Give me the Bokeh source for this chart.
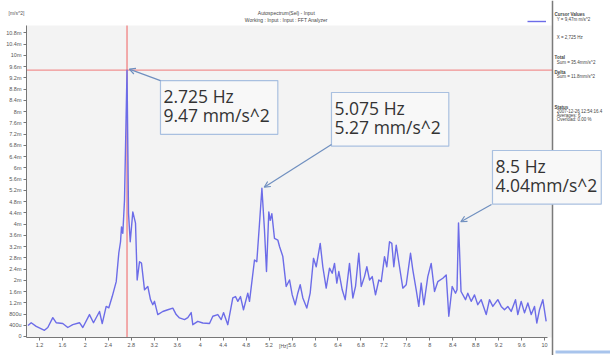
from bokeh.plotting import figure
from bokeh.models import (Range1d, FixedTicker, Span, Label, Arrow, OpenHead, BoxAnnotation,
                          Legend, LegendItem)
from bokeh.embed import file_html
from bokeh.resources import INLINE

# ---- data (frequency in Hz, amplitude in mm/s^2) ----
freq_hz = [1.000, 1.056, 1.143, 1.287, 1.345, 1.432, 1.491, 1.606, 1.693, 1.780, 1.897, 1.955,
           2.071, 2.141, 2.246, 2.293, 2.362, 2.408, 2.467, 2.537, 2.582, 2.612, 2.629, 2.652,
           2.681, 2.725, 2.751, 2.781, 2.826, 2.873, 2.902, 2.943, 2.977, 3.030, 3.087, 3.134,
           3.174, 3.204, 3.261, 3.348, 3.436, 3.523, 3.582, 3.639, 3.727, 3.784, 3.843, 3.871,
           3.958, 4.045, 4.162, 4.220, 4.307, 4.366, 4.406, 4.481, 4.568, 4.615, 4.655, 4.702,
           4.754, 4.829, 4.859, 4.946, 4.986, 5.033, 5.075, 5.120, 5.155, 5.195, 5.220, 5.248,
           5.294, 5.352, 5.382, 5.439, 5.498, 5.556, 5.603, 5.655, 5.700, 5.742, 5.788, 5.857,
           5.916, 5.974, 6.021, 6.091, 6.136, 6.195, 6.253, 6.300, 6.340, 6.380, 6.415, 6.474,
           6.526, 6.601, 6.659, 6.706, 6.763, 6.805, 6.862, 6.903, 6.950, 6.997, 7.054, 7.112,
           7.154, 7.211, 7.251, 7.298, 7.338, 7.373, 7.415, 7.472, 7.530, 7.589, 7.664, 7.704,
           7.763, 7.808, 7.850, 7.896, 7.965, 8.024, 8.082, 8.139, 8.227, 8.286, 8.331, 8.390,
           8.448, 8.474, 8.500, 8.544, 8.622, 8.662, 8.721, 8.779, 8.836, 8.895, 8.983, 9.040,
           9.098, 9.185, 9.244, 9.301, 9.359, 9.418, 9.493, 9.533, 9.592, 9.650, 9.708, 9.767,
           9.824, 9.864, 9.911, 9.969, 10.027]
amp_mm = [0.39, 0.49, 0.36, 0.22, 0.32, 0.67, 0.49, 0.46, 0.32, 0.42, 0.49, 0.32,
          0.78, 0.49, 0.89, 0.46, 1.07, 1.02, 1.42, 1.95, 2.97, 3.37, 3.90, 3.67,
          4.84, 9.47, 4.38, 3.37, 4.43, 4.03, 2.01, 2.66, 2.61, 1.66, 1.78, 1.31,
          1.13, 1.25, 0.78, 0.89, 0.95, 1.01, 0.78, 0.66, 0.60, 0.67, 0.85, 0.42,
          0.54, 0.48, 0.46, 0.72, 0.78, 0.60, 0.85, 0.42, 1.37, 1.42, 1.25, 1.42,
          0.95, 1.54, 1.25, 2.72, 2.66, 4.02, 5.27, 3.78, 2.31, 4.43, 4.13, 4.37,
          3.49, 3.43, 3.20, 2.85, 1.78, 2.01, 1.48, 1.13, 1.54, 1.84, 1.37, 1.01,
          1.54, 2.78, 2.48, 3.31, 2.48, 1.72, 2.43, 2.25, 2.60, 1.90, 2.31, 1.66,
          1.31, 2.60, 1.37, 1.78, 2.96, 1.78, 2.13, 2.48, 2.01, 2.13, 1.48, 2.01,
          1.95, 2.84, 2.48, 3.37, 3.31, 2.48, 3.25, 2.48, 1.72, 1.84, 2.96, 2.37,
          1.66, 1.07, 1.90, 1.13, 2.13, 2.60, 1.60, 1.95, 2.07, 2.19, 0.72, 1.78,
          1.54, 1.66, 4.04, 1.60, 1.31, 1.54, 1.25, 1.48, 1.13, 1.31, 0.78, 1.31,
          1.07, 1.31, 1.07, 0.95, 1.07, 0.89, 1.31, 0.78, 1.25, 0.84, 1.19, 0.78,
          1.07, 0.48, 0.95, 1.31, 0.54]

peak_hz = [2.725, 5.075, 8.5]
peak_amp = [9.47, 5.27, 4.04]
peak_text = ["2.725 Hz\n9.47 mm/s^2", "5.075 Hz\n5.27 mm/s^2", "8.5 Hz\n4.04mm/s^2"]

x_ticks = [1.2, 1.6, 2.0, 2.4, 2.8, 3.2, 3.6, 4.0, 4.4, 4.8, 5.2, 5.6, 6.0, 6.4, 6.8,
           7.2, 7.6, 8.0, 8.4, 8.8, 9.2, 9.6, 10.0]
x_tick_labels = ["1.2", "1.6", "2", "2.4", "2.8", "3.2", "3.6", "4", "4.4", "4.8", "5.2", "5.6",
                 "6", "6.4", "6.8", "7.2", "7.6", "8", "8.4", "8.8", "9.2", "9.6", "10"]
y_ticks = [0, 0.4, 0.8, 1.2, 1.6, 2.0, 2.4, 2.8, 3.2, 3.6, 4.0, 4.4, 4.8, 5.2, 5.6, 6.0,
           6.4, 6.8, 7.2, 7.6, 8.0, 8.4, 8.8, 9.2, 9.6, 10.0, 10.4, 10.8]
y_tick_labels = ["0", "400u", "800u", "1.2m", "1.6m", "2m", "2.4m", "2.8m", "3.2m", "3.6m",
                 "4m", "4.4m", "4.8m", "5.2m", "5.6m", "6m", "6.4m", "6.8m", "7.2m", "7.6m",
                 "8m", "8.4m", "8.8m", "9.2m", "9.6m", "10m", "10.4m", "10.8m"]

title_lines = ["Autospectrum(Sel) - Input", "Working : Input : Input : FFT Analyzer"]
info_lines = [("Cursor Values", True, 11.45), ("Y = 9,47m m/s^2", False, 11.27),
              ("X = 2,725 Hz", False, 10.63), ("Total", True, 9.92),
              ("Sum = 35.4mm/s^2", False, 9.74), ("Delta", True, 9.39),
              ("Sum = 11.8mm/s^2", False, 9.25), ("Status", True, 8.14),
              ("2007-12-26  12:54:16.4", False, 8.0), ("Averages: 6", False, 7.86),
              ("Overload:  0.00 %", False, 7.72)]

# plot-area bounds (data units) and full canvas ranges
X0, XP = 0.974, 10.1376      # plot area left, panel separator
XA = 10.05                   # end of x axis line
Y0, Y1 = -0.036, 11.06

p = figure(width=610, height=355, output_backend="svg", toolbar_location=None,
           x_range=Range1d(0.5209, 11.148), y_range=Range1d(-0.6757, 11.949),
           min_border_left=0, min_border_right=0, min_border_top=0, min_border_bottom=0)
p.background_fill_color = "white"
p.border_fill_color = "white"
p.outline_line_color = None
p.grid.visible = False

# gray plot area
p.add_layout(BoxAnnotation(left=X0, right=XP, bottom=Y0, top=Y1, fill_color="#f3f3f3",
                           fill_alpha=1.0, line_color=None, level="underlay"))

for ax in (p.xaxis[0], p.yaxis[0]):
    ax.axis_line_color = "#777777"
    ax.major_tick_line_color = "#777777"
    ax.minor_tick_line_color = None
    ax.major_label_text_color = "#555555"
    ax.major_label_text_font = "Liberation Sans"
    ax.major_label_text_font_size = "5.5px"
    ax.major_tick_in = 0
    ax.major_tick_out = 3
    ax.major_label_standoff = 2

p.xaxis.fixed_location = Y0
p.xaxis.bounds = (X0, XA)
p.yaxis.fixed_location = X0
p.yaxis.bounds = (Y0, Y1)
p.xaxis.ticker = FixedTicker(ticks=x_ticks)
p.xaxis.major_label_overrides = {t: l for t, l in zip(x_ticks, x_tick_labels)}
p.yaxis.ticker = FixedTicker(ticks=y_ticks)
p.yaxis.major_label_overrides = {t: l for t, l in zip(y_ticks, y_tick_labels)}

# cursor lines
p.segment(x0=[peak_hz[0]], y0=[Y0], x1=[peak_hz[0]], y1=[Y1],
          line_color="#f07878", line_width=1.5, line_alpha=0.8)
p.segment(x0=[X0], y0=[peak_amp[0]], x1=[XP], y1=[peak_amp[0]],
          line_color="#f07878", line_width=1.2, line_alpha=0.8)

# spectrum
spec = p.line(freq_hz, amp_mm, line_color="#6c6ce8", line_width=1.4, line_join="round")

# legend sample at the top right
leg = Legend(items=[LegendItem(label=" ", renderers=[spec])], location=(527, 331),
             padding=0, margin=0, spacing=0, glyph_width=19, glyph_height=6,
             label_text_font_size="4px", label_standoff=0,
             border_line_color=None, background_fill_alpha=0)
p.add_layout(leg, "center")

# panel separator and bottom-right scroll strip
p.add_layout(Span(location=XP, dimension="height", line_color="#7a7a7a", line_width=1.5))
p.add_layout(BoxAnnotation(left=10.19, right=11.2, bottom=-0.605, top=-0.50,
                           fill_color="#a8c4ec", fill_alpha=1.0, line_color=None))

# annotation boxes and arrows
box_dx = [0.583, 1.212, 0.592]
box_dy = [-0.37, 3.407, 2.574]
box_pad = [(3, 8, 3, 7), (3, 8, 3, 7), (3, 4, 3, 7)]
arrow_dx = [0.0, 0.0, -0.017]
arrow_dy = [0.0, -1.85, -1.92]
for i in range(3):
    bx = peak_hz[i] + box_dx[i]
    by = peak_amp[i] + box_dy[i]
    p.add_layout(Label(x=bx, y=by, text=peak_text[i], anchor="top_left",
                       text_font="Open Sans", text_font_size="17.5px", text_color="#333333",
                       text_line_height=0.82,
                       background_fill_color="#f8f8f8", background_fill_alpha=1.0,
                       border_line_color="#a9c0e0", border_line_width=1.2,
                       padding=box_pad[i]))
    p.add_layout(Arrow(x_start=bx + arrow_dx[i], y_start=by + arrow_dy[i],
                       x_end=peak_hz[i] + 0.04, y_end=peak_amp[i] + 0.04,
                       line_color="#6f8fbf", line_width=1.2,
                       end=OpenHead(size=6, line_color="#6f8fbf", line_width=1.2)))

# titles and unit labels
p.add_layout(Label(x=5.50, y=11.49, text=title_lines[0], text_align="center", text_baseline="middle",
                   text_font="Liberation Sans", text_font_size="5px", text_color="#444444"))
p.add_layout(Label(x=5.50, y=11.24, text=title_lines[1], text_align="center", text_baseline="middle",
                   text_font="Liberation Sans", text_font_size="5px", text_color="#444444"))
p.add_layout(Label(x=0.80, y=11.49, text="[m/s^2]", text_align="center", text_baseline="middle",
                   text_font="Liberation Sans", text_font_size="5px", text_color="#555555"))
p.add_layout(Label(x=5.45, y=-0.33, text="[Hz]", text_align="center", text_baseline="middle",
                   text_font="Liberation Sans", text_font_size="5px", text_color="#555555"))

# info panel
for txt, bold, yy in info_lines:
    p.add_layout(Label(x=10.172 if bold else 10.21, y=yy, text=txt, text_baseline="middle",
                       text_font="Liberation Sans", text_font_size="4.5px",
                       text_font_style="bold" if bold else "normal", text_color="#444444"))

open("out.html", "w").write(file_html(p, INLINE))
